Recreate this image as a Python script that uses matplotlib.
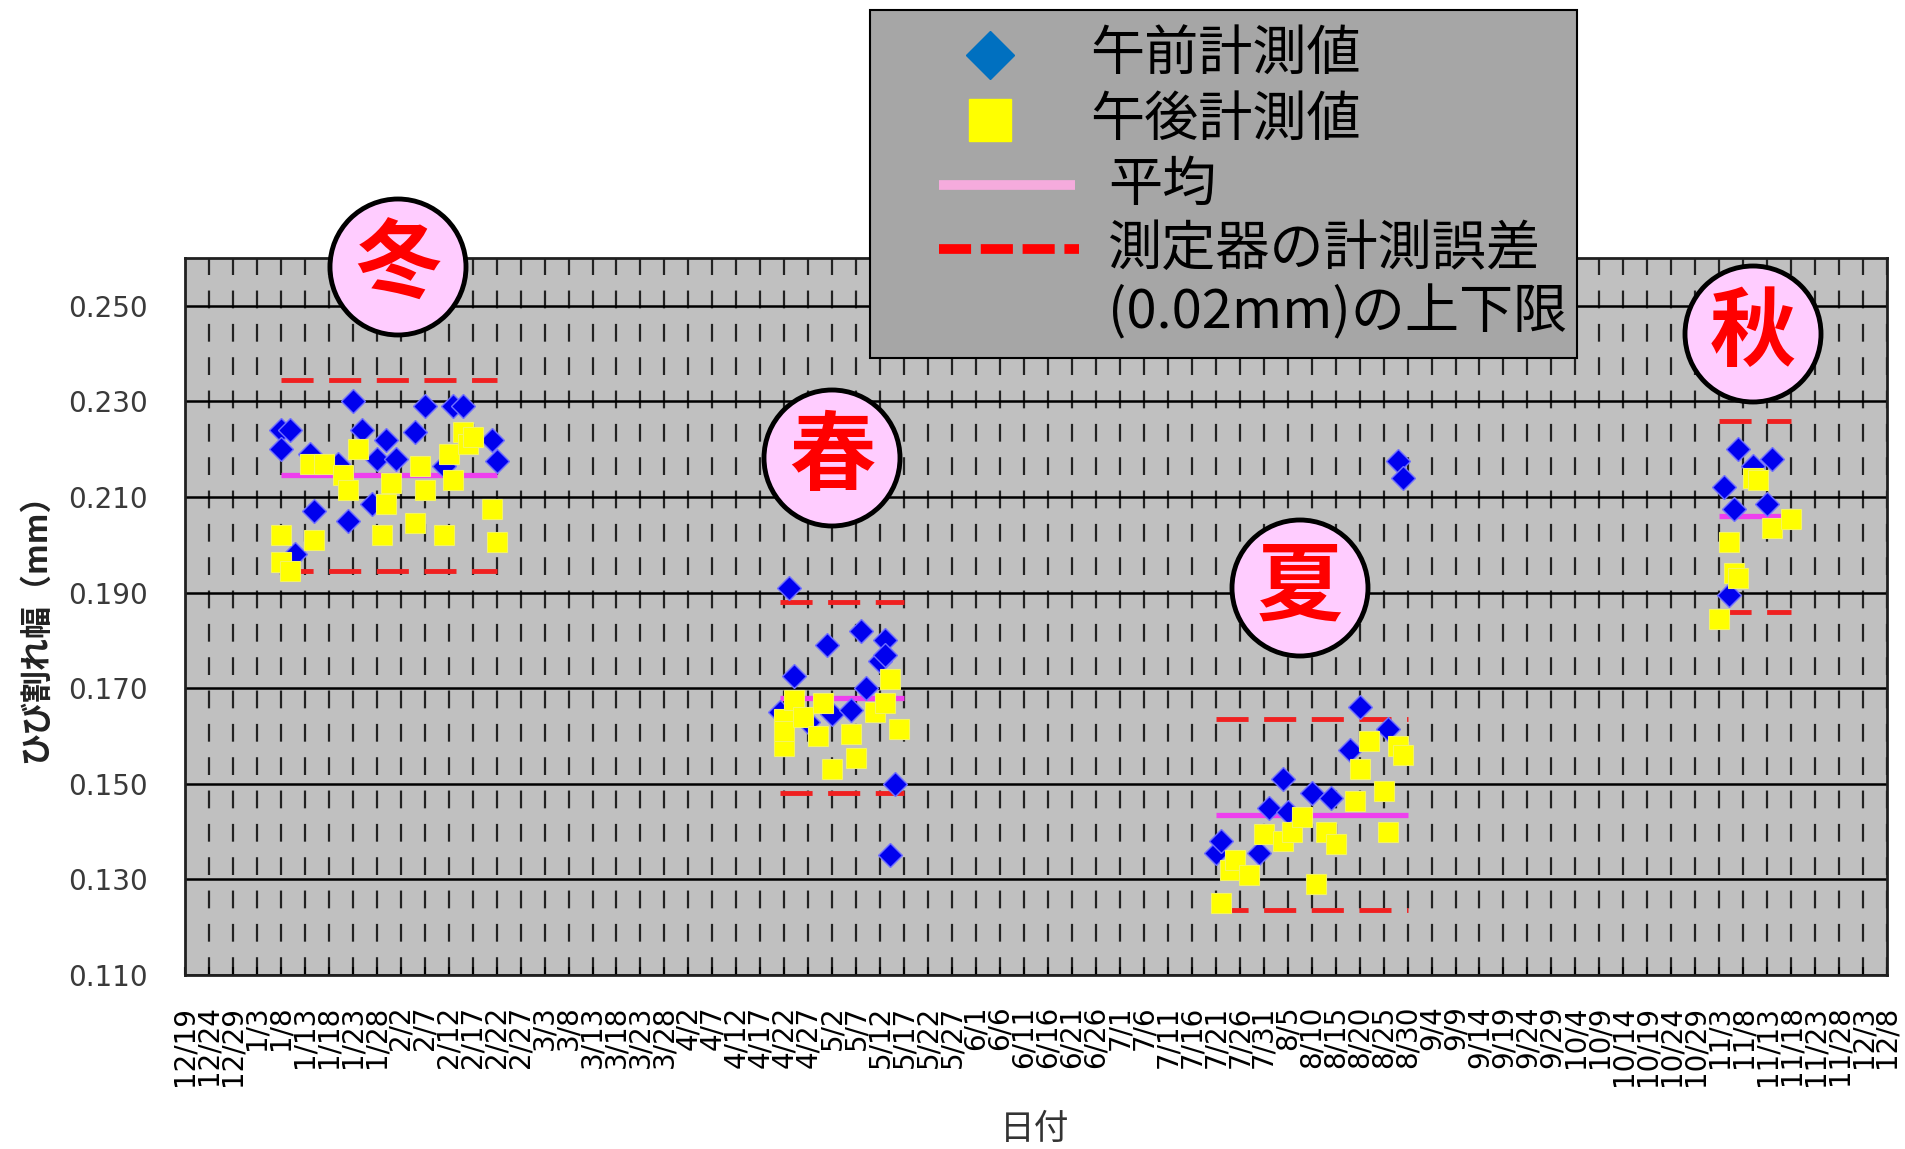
import numpy as np
import pandas as pd
import matplotlib.pyplot as plt
import matplotlib.transforms as mtransforms
from matplotlib.lines import Line2D
from matplotlib.patches import Circle, Rectangle

plt.rcParams['font.family'] = ['Noto Sans CJK JP', 'DejaVu Sans']

# 午前の計測値
am_dates = ['2008-01-08', '2008-01-10', '2008-01-08', '2008-01-11', '2008-01-14', '2008-01-15',
            '2008-01-20', '2008-01-22', '2008-01-23', '2008-01-25', '2008-01-27', '2008-01-28',
            '2008-01-30', '2008-02-01', '2008-02-05', '2008-02-07', '2008-02-11', '2008-02-13',
            '2008-02-15', '2008-02-21', '2008-02-22',
            '2008-04-21', '2008-04-23', '2008-04-24', '2008-04-27', '2008-05-01', '2008-05-02',
            '2008-05-06', '2008-05-08', '2008-05-09', '2008-05-12', '2008-05-13', '2008-05-13',
            '2008-05-14', '2008-05-15',
            '2008-07-21', '2008-07-22', '2008-07-30', '2008-08-01', '2008-08-04', '2008-08-05',
            '2008-08-10', '2008-08-14', '2008-08-18', '2008-08-20', '2008-08-26', '2008-08-28',
            '2008-08-29',
            '2008-11-04', '2008-11-05', '2008-11-06', '2008-11-07', '2008-11-10', '2008-11-13',
            '2008-11-14']
am_values = [0.224, 0.224, 0.220, 0.198, 0.219, 0.207,
             0.217, 0.205, 0.230, 0.224, 0.2085, 0.218,
             0.222, 0.218, 0.2235, 0.229, 0.2165, 0.229,
             0.229, 0.222, 0.2175,
             0.165, 0.191, 0.1725, 0.163, 0.179, 0.1645,
             0.1655, 0.182, 0.170, 0.1757, 0.180, 0.177,
             0.135, 0.150,
             0.1355, 0.138, 0.1355, 0.145, 0.151, 0.144,
             0.148, 0.147, 0.157, 0.166, 0.1615, 0.2175,
             0.214,
             0.212, 0.1895, 0.2075, 0.220, 0.2165, 0.2085,
             0.218]

# 午後の計測値
pm_dates = ['2008-01-08', '2008-01-08', '2008-01-10', '2008-01-14', '2008-01-15', '2008-01-17',
            '2008-01-21', '2008-01-22', '2008-01-24', '2008-01-29', '2008-01-30', '2008-01-31',
            '2008-02-05', '2008-02-06', '2008-02-07', '2008-02-11', '2008-02-12', '2008-02-13',
            '2008-02-15', '2008-02-16', '2008-02-17', '2008-02-21', '2008-02-22',
            '2008-04-22', '2008-04-22', '2008-04-22', '2008-04-24', '2008-04-26', '2008-04-29',
            '2008-04-30', '2008-05-02', '2008-05-06', '2008-05-07', '2008-05-11', '2008-05-13',
            '2008-05-14', '2008-05-16',
            '2008-07-22', '2008-07-24', '2008-07-25', '2008-07-28', '2008-07-31', '2008-08-04',
            '2008-08-06', '2008-08-08', '2008-08-11', '2008-08-13', '2008-08-15', '2008-08-19',
            '2008-08-20', '2008-08-22', '2008-08-25', '2008-08-26', '2008-08-28', '2008-08-29',
            '2008-11-03', '2008-11-05', '2008-11-06', '2008-11-07', '2008-11-10', '2008-11-11',
            '2008-11-14', '2008-11-18']
pm_values = [0.202, 0.1965, 0.1945, 0.217, 0.201, 0.217,
             0.2145, 0.2115, 0.220, 0.202, 0.2085, 0.213,
             0.2045, 0.2165, 0.2115, 0.202, 0.219, 0.2135,
             0.2235, 0.221, 0.2225, 0.2075, 0.2005,
             0.158, 0.1635, 0.161, 0.1675, 0.164, 0.160,
             0.167, 0.153, 0.1605, 0.1555, 0.165, 0.167,
             0.172, 0.1615,
             0.125, 0.132, 0.134, 0.131, 0.1395, 0.138,
             0.140, 0.143, 0.129, 0.140, 0.1375, 0.1465,
             0.153, 0.159, 0.1485, 0.140, 0.158, 0.156,
             0.1845, 0.2005, 0.194, 0.193, 0.214, 0.2135,
             0.2035, 0.2055]

# 季節ごとの計測期間・平均値
season_names = ['冬', '春', '夏', '秋']
season_start = ['2008-01-08', '2008-04-21', '2008-07-21', '2008-11-03']
season_end = ['2008-02-22', '2008-05-17', '2008-08-30', '2008-11-18']
season_mean = [0.2145, 0.168, 0.1435, 0.206]
meter_error = 0.02  # 測定器の計測誤差 (mm)

y_ticks = [0.110, 0.130, 0.150, 0.170, 0.190, 0.210, 0.230, 0.250]
x_first, x_last = '2007-12-19', '2008-12-08'

W, H = 1905, 1149
fig = plt.figure(figsize=(W / 100, H / 100), dpi=100)
ax = fig.add_axes([185 / W, 1 - 975 / H, (1887 - 185) / W, (975 - 258) / H])
ax.set_facecolor('#C0C0C0')

# 画素座標 (左上原点)
px = mtransforms.Affine2D().scale(1 / W, -1 / H).translate(0, 1) + fig.transFigure

# 平均と誤差範囲
for s, e, m in zip(season_start, season_end, season_mean):
    xs = pd.to_datetime([s, e])
    ax.plot(xs, [m, m], color='#EE3FEE', lw=3.8, solid_capstyle='butt', zorder=2)
    for v in (m + meter_error, m - meter_error):
        ax.plot(xs, [v, v], color='#F02020', lw=3.5, dashes=(6.6, 3.2),
                dash_capstyle='butt', zorder=2)

ax.plot(pd.to_datetime(am_dates), am_values, ls='none', marker='D', ms=12.5,
        mfc='#0000EE', mec='#7070FF', mew=1, zorder=3)
ax.plot(pd.to_datetime(pm_dates), pm_values, ls='none', marker='s', ms=14.5,
        mfc='#FFFF00', mec='#F4F460', mew=0.8, zorder=4)

# 軸
ticks = pd.date_range(x_first, x_last, freq='5D')
ax.set_xlim(ticks[0], ticks[-1])
ax.set_xticks(ticks)
ax.set_xticklabels([f'{d.month}/{d.day}' for d in ticks], rotation=90,
                   family='DejaVu Sans', fontsize=20)
ax.set_ylim(0.110, 0.260)
ax.set_yticks(y_ticks)
ax.set_yticklabels([f'{v:.3f}' for v in y_ticks], family='DejaVu Sans',
                   fontsize=20, color='#3A3A3A')
ax.tick_params(axis='x', direction='in', length=6, width=1.5, pad=22)
ax.tick_params(axis='y', length=0, pad=27)

ax.yaxis.grid(True, color='black', lw=1.8)
ax.xaxis.grid(True, color='#222222', lw=1.6, ls=(0, (8, 7)))
ax.set_axisbelow(True)
for sp in ax.spines.values():
    sp.set_linewidth(2)
    sp.set_color('#202020')

ax.set_ylabel('ひび割れ幅（mm）', fontsize=23, fontweight='bold', color='#222222')
ax.yaxis.set_label_coords(-0.078, 0.495)
ax.set_xlabel('日付', fontsize=25, color='#333333')
ax.xaxis.set_label_coords(0.4994, -0.216)
ax.xaxis.label.set_va('center')

# 季節の丸印
season_xy = [(398, 267), (832, 458), (1300, 588), (1753, 334)]
for name, (cx, cy) in zip(season_names, season_xy):
    fig.add_artist(Circle((cx, cy), 68, transform=px, facecolor='#FFCCFF',
                          edgecolor='black', lw=3.5, zorder=5))
    fig.text(cx, cy, name, transform=px, ha='center', va='center', fontsize=62,
             color='#FF0000', fontweight='bold', zorder=6)

# 凡例
fig.add_artist(Rectangle((870, 10), 707, 348, transform=px, facecolor='#A6A6A6',
                         edgecolor='black', lw=1.5, zorder=5))
rows = [55, 120, 185, 249, 313]
fig.add_artist(Line2D([990], [rows[0]], transform=px, marker='D', ms=24,
                      color='#0070C0', zorder=6))
fig.add_artist(Line2D([990], [rows[1]], transform=px, marker='s', ms=30,
                      color='#FFFF00', zorder=6))
fig.add_artist(Line2D([939, 1075], [rows[2], rows[2]], transform=px, lw=7,
                      color='#F5ABDD', solid_capstyle='butt', zorder=6))
fig.add_artist(Line2D([939, 1079], [rows[3], rows[3]], transform=px, lw=7,
                      color='#FF0000', dashes=(3.3, 1.0), dash_capstyle='butt', zorder=6))
legend_texts = ['午前計測値', '午後計測値', '平均', '測定器の計測誤差', '(0.02mm)の上下限']
legend_x = [1090, 1090, 1108, 1108, 1108]
for t, x, y in zip(legend_texts, legend_x, rows):
    fig.text(x, y, t, transform=px, ha='left', va='center', fontsize=39,
             color='black', zorder=7)

fig.savefig('out.png', dpi=100)
